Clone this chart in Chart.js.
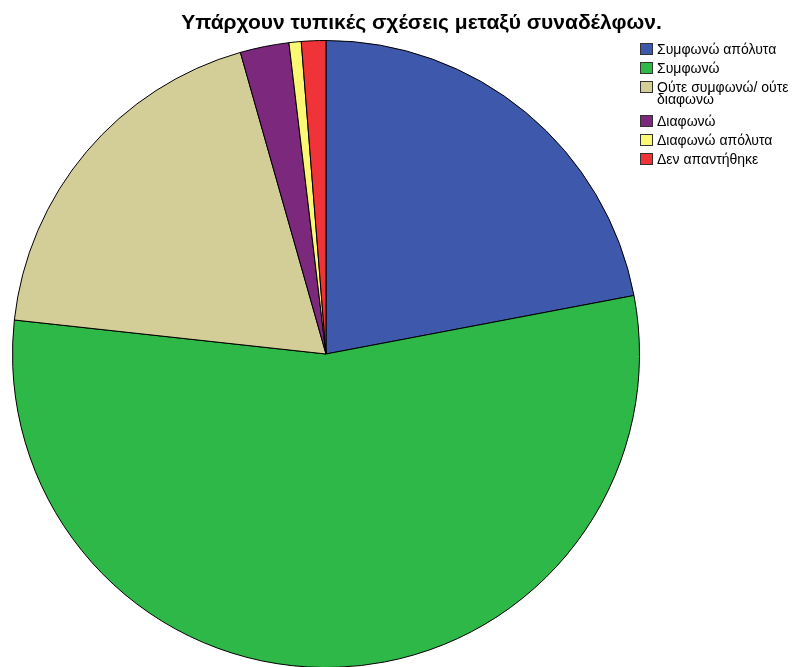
<!DOCTYPE html>
<html>
<head>
<meta charset="utf-8">
<script src="https://cdn.jsdelivr.net/npm/chart.js@4"></script>
<style>
  body { margin: 0; background: #fff; overflow: hidden; }
  #wrap { position: relative; width: 797px; height: 667px; overflow: hidden; }
  #chartBox { position: absolute; left: 0; top: 0; width: 652px; height: 708px; }
  #title { position: absolute; left: 0; width: 843px; top: 10px; text-align: center;
           font: bold 21px "Liberation Sans", Arial, sans-serif; color: #000; }
  #legend { position: absolute; left: 640px; top: 43px; font: 14px "Liberation Sans", Arial, sans-serif; color: #000; }
  .item { display: flex; align-items: flex-start; margin-bottom: 7px; line-height: 12px; }
  .item.multi { margin-top: 4px; margin-bottom: 10px; }
  .box { width: 11px; height: 10px; border: 1px solid #333; margin-right: 4px; flex: none; }
  .txt { width: 140px; }
</style>
</head>
<body>
<div id="wrap">
  <div id="chartBox"><canvas id="pie"></canvas></div>
  <div id="title">Υπάρχουν τυπικές σχέσεις μεταξύ συναδέλφων.</div>
  <div id="legend"></div>
</div>
<script>
var ctx = document.getElementById('pie').getContext('2d');
/* Υπάρχουν τυπικές σχέσεις μεταξύ συναδέλφων */
const names = ['Συμφωνώ απόλυτα', 'Συμφωνώ', 'Ούτε συμφωνώ/ ούτε διαφωνώ', 'Διαφωνώ', 'Διαφωνώ απόλυτα', 'Δεν απαντήθηκε'];
const value = [35, 87, 30, 4, 1, 2];
const colors = ['#3E58AC', '#2EB848', '#D3CE97', '#7C287D', '#FBF873', '#EF3338'];

var myChart = new Chart(ctx, {
    type: 'pie',
    data: {
        labels: names,
        datasets: [{
            data: value,
            backgroundColor: colors,
            borderColor: '#000',
            borderWidth: 1
        }]
    },
    options: {
        responsive: true,
        maintainAspectRatio: false,
        animation: false,
        layout: { padding: 12 },
        plugins: {
            legend: { display: false },
            tooltip: { enabled: false }
        }
    }
});

// legend on the right
var leg = document.getElementById('legend');
names.forEach(function (n, i) {
    var it = document.createElement('div');
    it.className = n.length > 20 ? 'item multi' : 'item';
    it.innerHTML = '<div class="box" style="background:' + colors[i] + '"></div><div class="txt">' + n + '</div>';
    leg.appendChild(it);
});
</script>
</body>
</html>
